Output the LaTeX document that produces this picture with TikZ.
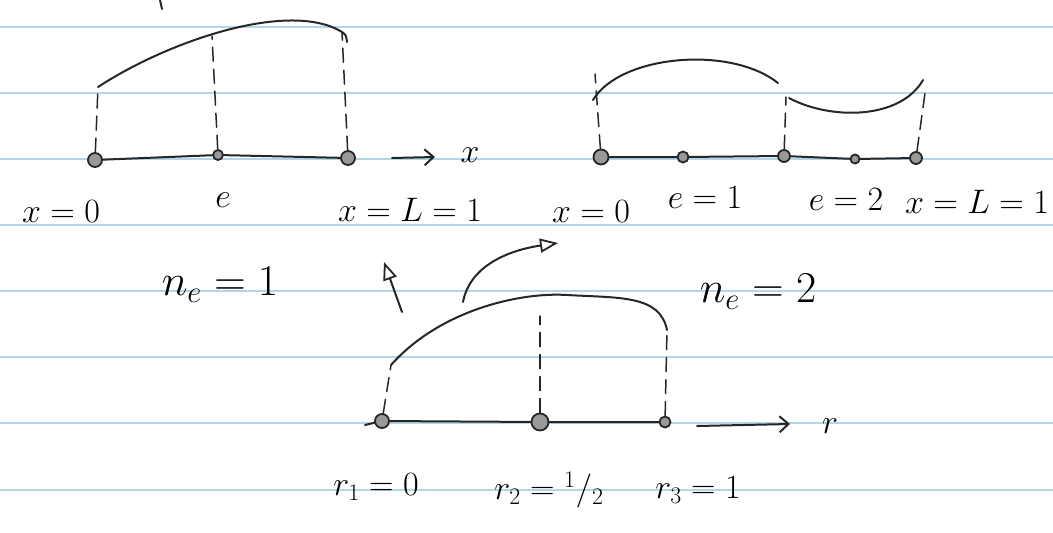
\RequirePackage{fix-cm}
\documentclass[tikz,border=0pt]{standalone}
\usepackage{amsmath,amssymb}
\usetikzlibrary{arrows.meta}

\definecolor{paperline}{RGB}{178,214,230}
\tikzset{
  pen/.style={line width=2pt, line cap=round, color=black!85},
  knot/.style={circle, draw=black!85, line width=1.8pt, fill=black!40, inner sep=0pt, minimum size=#1},
  knot/.default=12pt,
  guide/.style={pen, line width=1.5pt, dash pattern=on 14pt off 8pt},
  lbl/.style={inner sep=0.75pt, font=\fontsize{34}{38}\selectfont},
  big/.style={inner sep=0.75pt, font=\fontsize{44}{48}\selectfont},
  openhead/.style={-{Triangle[open, length=18pt, width=14pt, line width=1.8pt]}},
  barbhead/.style={-{Straight Barb[length=9pt, width=16pt, line width=2pt]}},
}

\begin{document}
\begin{tikzpicture}[x=1pt,y=1pt,yscale=-1,xscale=1]
\useasboundingbox (0,0) rectangle (1053,533);

%Paper lines
\foreach \y in {27,93,159,225,291,357,423,490}
  \draw [color=paperline, line width=1.6pt] (0,\y) -- (1053,\y);

%Stray stroke at the top
\draw [pen] (160,0) -- (162,9);

%% one element, n_e = 1
\node [knot=14pt] (a0) at (95,160) {};
\node [knot=10pt] (a1) at (218,155) {};
\node [knot=14pt] (a2) at (348,158) {};
\coordinate (c0) at (98,87);
\coordinate (c1) at (212,36);
\coordinate (c2) at (342,32);
\coordinate (xs) at (392,158);
\coordinate (xe) at (435,157);
%Straight Lines
\draw [pen] (a0) -- (a1) -- (a2);
\draw [guide] (a0) -- (c0);
\draw [guide] (a1) -- (c1);
\draw [guide] (a2) -- (c2);
%Curve
\draw [pen] (c0) .. controls (170,40) and (290,0) .. (c2) .. controls (346,35) .. (347,42);
%Arrow
\draw [pen, barbhead] (xs) -- (xe);

% Text Node
\node [lbl] (xlab) at (470,155) {$x$};
\node [lbl] (x0) at (61,212) {$x=0$};
\node [lbl] (el) at (223,200) {$e$};
\node [lbl] (xL) at (410,210) {$x=L=1$};
\node [big] (ne1) at (220,285) {$n_e=1$};

%% two elements, n_e = 2
\node [knot=15pt] (b0) at (601,157) {};
\node [knot=11pt] (b1) at (683,157) {};
\node [knot=12pt] (b2) at (784,156) {};
\node [knot=9pt] (b3) at (855,159) {};
\node [knot=12pt] (b4) at (916,158) {};
\coordinate (d0) at (595,74);
\coordinate (d1) at (593,100);
\coordinate (d2) at (778,83);
\coordinate (d3) at (786,97);
\coordinate (d4) at (789,98);
\coordinate (d5) at (923,80);
\coordinate (d6) at (926,86);
%Straight Lines
\draw [pen] (b0) -- (b1) -- (b2) -- (b3) -- (b4);
\draw [guide] (b0) -- (d0);
\draw [guide] (b2) -- (d3);
\draw [guide] (b4) -- (d6);
%Curves
\draw [pen] (d1) .. controls (620,55) and (730,45) .. (d2);
\draw [pen] (d4) .. controls (830,120) and (900,120) .. (d5);

% Text Node
\node [lbl] (x0r) at (591,212) {$x=0$};
\node [lbl] (e1) at (705,198) {$e=1$};
\node [lbl] (e2) at (846,200) {$e=2$};
\node [lbl] (xLr) at (977,202) {$x=L=1$};
\node [big] (ne2) at (758,292) {$n_e=2$};

%% master element in r
\node [knot=14pt] (r0) at (382,421) {};
\node [knot=17pt] (r1) at (540,422) {};
\node [knot=11pt] (r2) at (665,422) {};
\coordinate (rs) at (365,425);
\coordinate (f0) at (391,365);
\coordinate (f1) at (540,316);
\coordinate (f2) at (667,330);
\coordinate (rsa) at (697,426);
\coordinate (rea) at (790,424);
%Straight Lines
\draw [pen] (rs) -- (r0) -- (r1) -- (r2);
\draw [guide] (r0) -- (f0);
\draw [guide] (r1) -- (f1);
\draw [guide] (r2) -- (f2);
%Curve
\draw [pen] (f0) .. controls (440,310) and (520,292) .. (567,295) .. controls (620,298) and (660,295) .. (f2);
%Arrow
\draw [pen, barbhead] (rsa) -- (rea);

% Text Node
\node [lbl] (rlab) at (830,426) {$r$};
\node [lbl] (r1l) at (376,487) {$r_1=0$};
\node [lbl] (r2l) at (549,490) {$r_2={}^{1}/_{2}$};
\node [lbl] (r3l) at (698,490) {$r_3=1$};

%% mapping arrows
\coordinate (u0) at (402,312);
\coordinate (u1) at (384,262);
\coordinate (v0) at (463,302);
\coordinate (v1) at (558,243);
\draw [pen, openhead] (u0) -- (u1);
\draw [pen, openhead] (v0) .. controls (470,265) and (510,250) .. (v1);

\end{tikzpicture}
\end{document}
